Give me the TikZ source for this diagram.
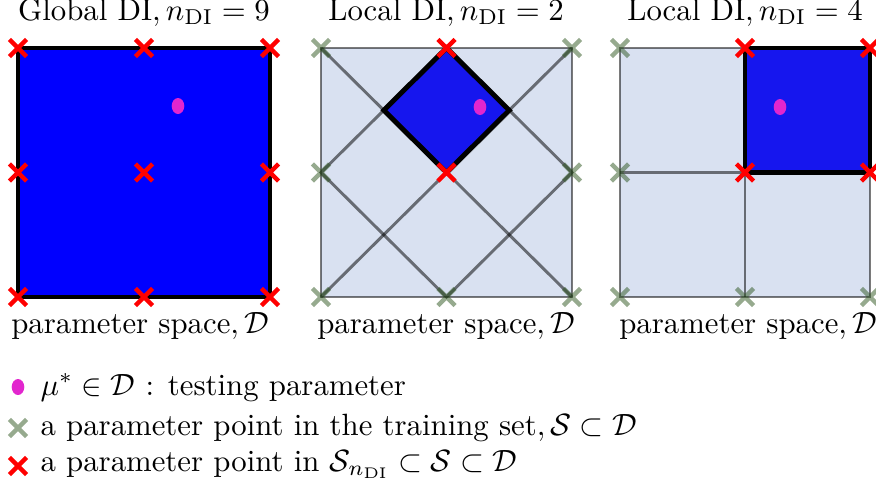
\documentclass[tikz,border=0pt]{standalone}
\usetikzlibrary{shapes.misc,shapes.geometric,shadows}
\definecolor{spacefill}{RGB}{217,225,241}
\definecolor{subblue}{RGB}{22,22,238}
\definecolor{testpt}{RGB}{226,38,206}
\definecolor{trainpt}{RGB}{45,85,30}
\begin{document}
\begin{tikzpicture}[x=0.325pt,y=-0.325pt,
  redx/.style={cross out,draw=red,line width=1.45pt,minimum size=4.1pt,inner sep=0pt},
  greenx/.style={cross out,draw=trainpt,draw opacity=0.5,line width=1.45pt,minimum size=4.1pt,inner sep=0pt},
  testdot/.style={ellipse,fill=testpt,minimum width=4.1pt,minimum height=5.2pt,inner sep=0pt},
  gridline/.style={draw=black,draw opacity=0.52,line width=0.95pt},
  subdomain/.style={fill=subblue,draw=black,line width=1.6pt,line join=miter,
    drop shadow={shadow xshift=0.7pt,shadow yshift=-0.7pt,opacity=0.35}}]
\useasboundingbox (0,0) rectangle (876,486);

% titles
\node[anchor=base] (t1) at (144,20) {Global DI$, n_{\mathrm{DI}}=9$};
\node[anchor=base] (t2) at (446,20) {Local DI$, n_{\mathrm{DI}}=2$};
\node[anchor=base] (t3) at (745,20) {Local DI$, n_{\mathrm{DI}}=4$};

% global DI
\fill[blue] (18,48) rectangle (270,297);
\draw[black,line width=1.15pt] (18,48) rectangle (270,297);
\node[testdot] (mu1) at (178,106) {};
\foreach \i in {0,1,2}
  \foreach \j in {0,1,2}
    \node[redx] (a\i\j) at ({18+126*\i},{48+124.5*\j}) {};

% local DI, two points
\fill[spacefill] (321,48) rectangle (572,297);
\draw[gridline] (321,48) rectangle (572,297);
\draw[gridline] (321,48) -- (572,297) (572,48) -- (321,297);
\draw[gridline] (321,172.5) -- (446.5,48) -- (572,172.5) -- (446.5,297) -- cycle;
\draw[subdomain] (383.75,110.25) -- (446.5,48) -- (509.25,110.25) -- (446.5,172.5) -- cycle;
\node[testdot] (mu2) at (480,107) {};
\foreach \i/\j in {0/0,2/0,0/1,2/1,0/2,1/2,2/2}
  \node[greenx] (b\i\j) at ({321+125.5*\i},{48+124.5*\j}) {};
\node[redx] (b10) at (446.5,48) {};
\node[redx] (b11) at (446.5,172.5) {};

% local DI, four points
\fill[spacefill] (620,48) rectangle (870,297);
\draw[gridline] (620,48) rectangle (870,297);
\draw[gridline] (745,48) -- (745,297) (620,172.5) -- (870,172.5);
\draw[subdomain] (745,48) rectangle (870,172.5);
\node[testdot] (mu3) at (780,107) {};
\foreach \i/\j in {0/0,0/1,0/2,1/2,2/2}
  \node[greenx] (c\i\j) at ({620+125*\i},{48+124.5*\j}) {};
\foreach \i/\j in {1/0,2/0,1/1,2/1}
  \node[redx] (c\i\j) at ({620+125*\i},{48+124.5*\j}) {};

% parameter space labels
\node[anchor=base] (d1) at (140,333) {parameter space$, \mathcal{D}$};
\node[anchor=base] (d2) at (446,333) {parameter space$, \mathcal{D}$};
\node[anchor=base] (d3) at (748,333) {parameter space$, \mathcal{D}$};

% legend
\node[testdot] (lgmu) at (18,387) {};
\node[greenx] (lgs) at (18,428) {};
\node[redx] (lgsn) at (18,466) {};
\node[anchor=base west,inner sep=0pt] (lgmutext) at (40,395) {$\mu^* \in \mathcal{D}$ : testing parameter};
\node[anchor=base west,inner sep=0pt] (lgstext) at (40,435) {a parameter point in the training set$, \mathcal{S}\subset\mathcal{D}$};
\node[anchor=base west,inner sep=0pt] (lgsntext) at (40,471) {a parameter point in $\mathcal{S}_{n_{\mathrm{DI}}}\subset\mathcal{S}\subset\mathcal{D}$};
\end{tikzpicture}
\end{document}
